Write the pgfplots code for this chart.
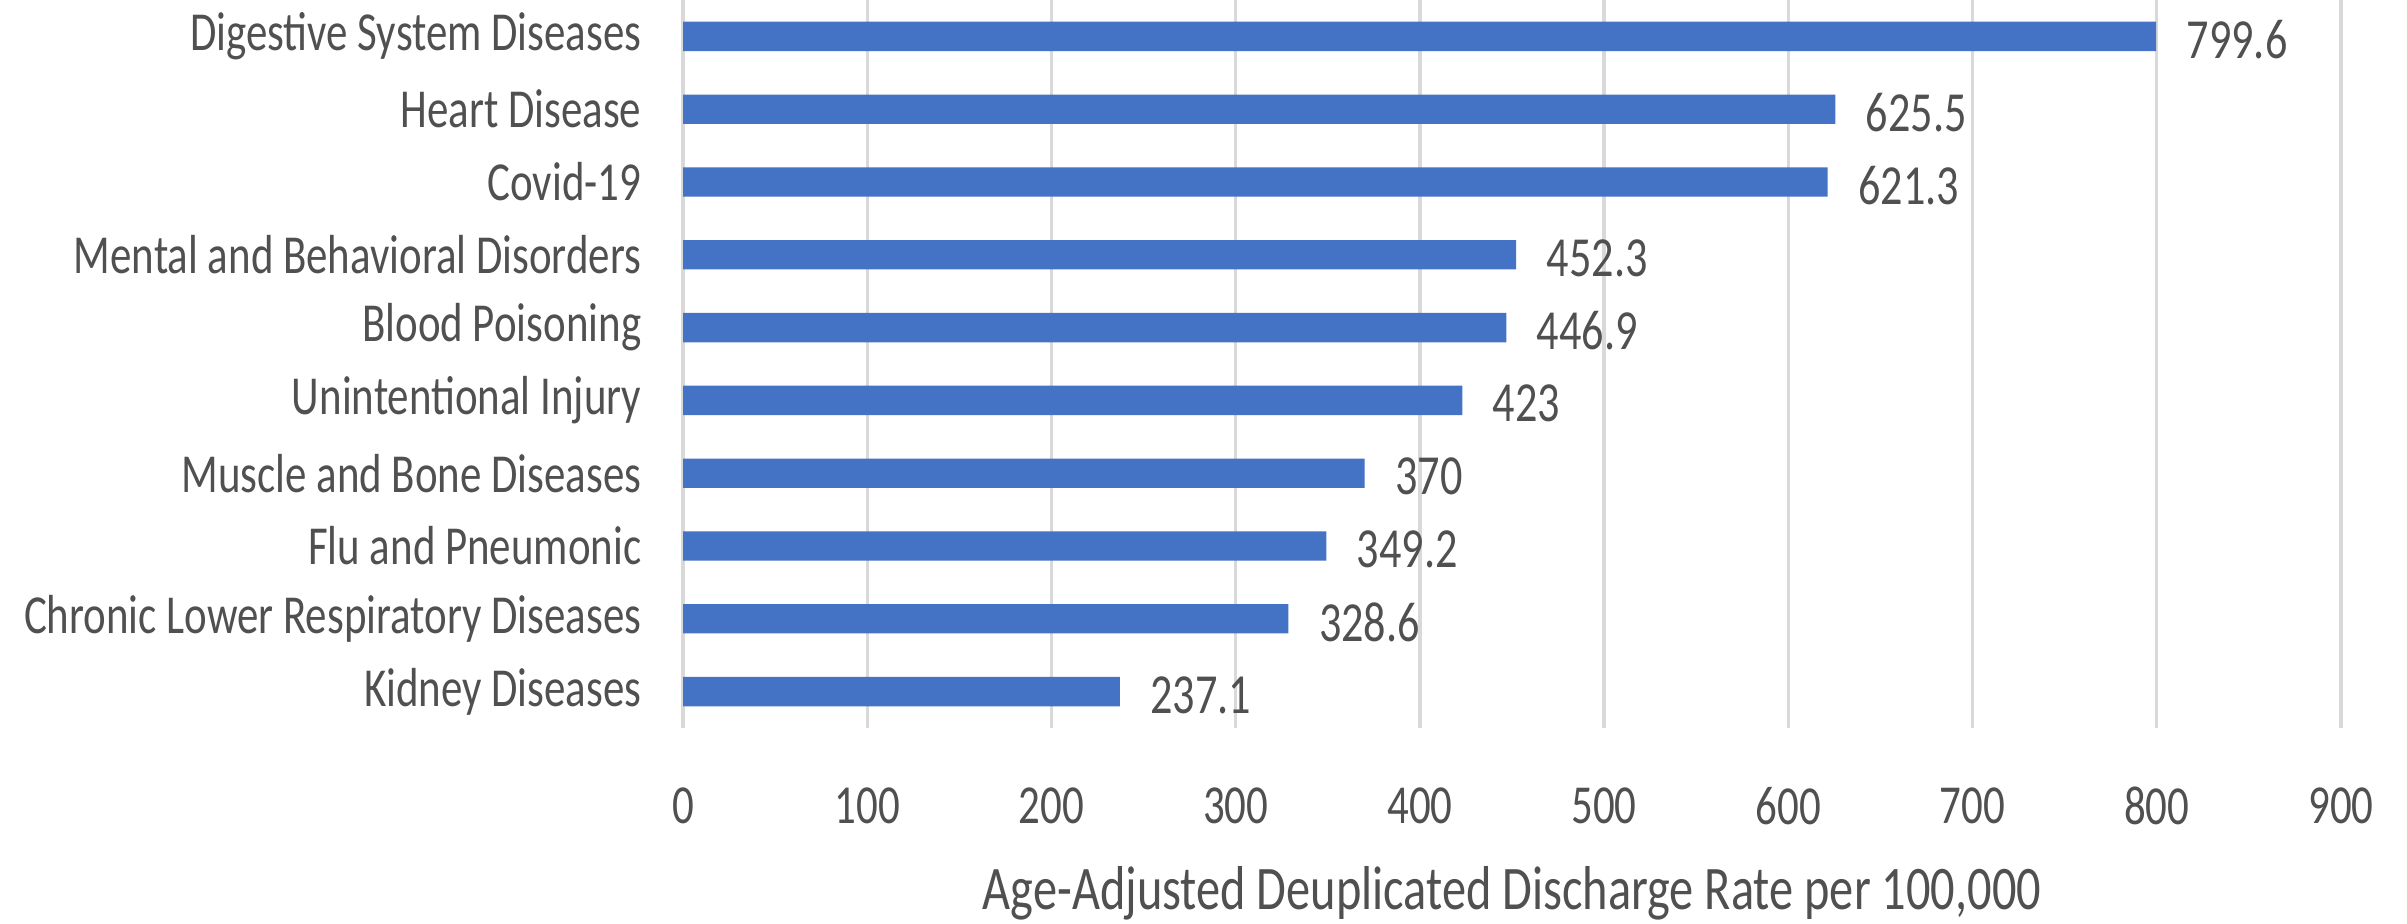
\documentclass[border=0pt]{standalone}
\usepackage{pgfplots}
\pgfplotsset{compat=1.18}
\usepackage{fontspec}
\setmainfont{Carlito}[FakeStretch=0.78]
\definecolor{barblue}{HTML}{4472C4}
\definecolor{txtgray}{HTML}{505050}
\definecolor{gridgray}{HTML}{D9D9D9}
\begin{document}
\begin{tikzpicture}
\begin{axis}[
 at={(204.9pt,0pt)}, anchor=north west,
 scale only axis, width=497.4pt, height=218.4pt,
 xbar, bar width=8.8pt,
 xmin=0, xmax=900, ymin=-0.5, ymax=9.5,
 xtick={0,100,...,900},
 ytick={0,...,9},
 yticklabels={Kidney Diseases, Chronic Lower Respiratory Diseases, Flu and Pneumonic, Muscle and Bone Diseases, Unintentional Injury, Blood Poisoning, Mental and Behavioral Disorders, Covid-19, Heart Disease, Digestive System Diseases},
 axis line style={draw=none},
 major tick length=0pt,
 xmajorgrids, grid style={gridgray, line width=1pt},
 /pgf/number format/assume math mode=true,
 xticklabel style={font=\fontsize{16.5}{19}\selectfont, text=txtgray, anchor=center, yshift=-23.4pt},
 yticklabel style={font=\fontsize{16.5}{19}\selectfont, text=txtgray, anchor=east, inner sep=0pt, xshift=-12.3pt},
 xlabel={Age-Adjusted Deuplicated Discharge Rate per 100,000},
 xlabel style={at={(axis description cs:0.5,0)}, anchor=center, yshift=-49.5pt, font=\fontsize{18.6}{21}\selectfont, text=txtgray},
 nodes near coords, point meta=explicit symbolic,
 every node near coord/.append style={font=\fontsize{17}{19}\selectfont, text=txtgray, anchor=west, inner sep=0pt, xshift=9pt, yshift=-1pt},
 clip=false,
]
\addplot[fill=barblue, draw=none] table[x=v, y=i, meta=lab] {
i v lab
0 237.1 237.1
1 328.6 328.6
2 349.2 349.2
3 370 370
4 423 423
5 446.9 446.9
6 452.3 452.3
7 621.3 621.3
8 625.5 625.5
9 799.6 799.6
};
\end{axis}
\pgfresetboundingbox
\useasboundingbox (0,0) rectangle (722.1pt,-277.2pt);
\end{tikzpicture}
\end{document}
